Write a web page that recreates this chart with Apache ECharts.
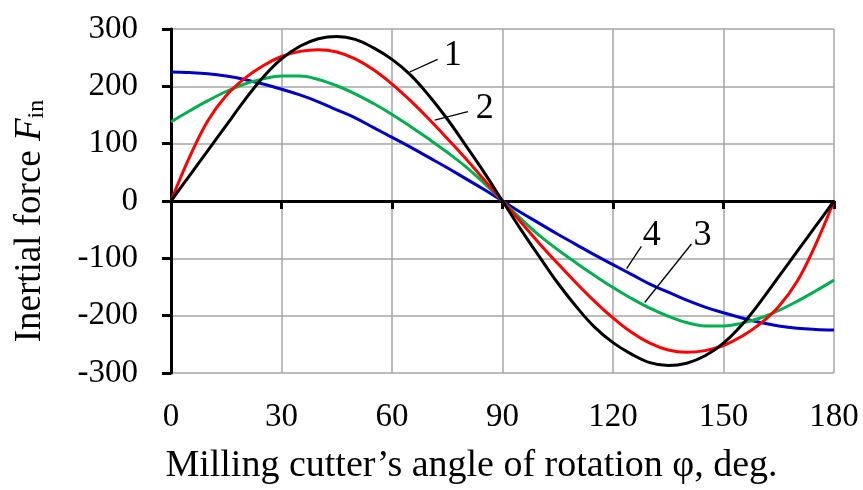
<!DOCTYPE html>
<html>
<head>
<meta charset="utf-8">
<script src="https://cdn.jsdelivr.net/npm/echarts@6/dist/echarts.min.js"></script>
<style>
  html, body { margin: 0; padding: 0; background: #fff; }
  #chart { width: 863px; height: 490px; }
</style>
</head>
<body>
<div id="chart"></div>
<script>
// angle of rotation, deg
const angles = [0, 5, 10, 15, 20, 25, 30, 35, 40, 45, 50, 55, 60, 65, 70, 75, 80, 85, 90,
  95, 100, 105, 110, 115, 120, 125, 130, 135, 140, 145, 150, 155, 160, 165, 170, 175, 180];

// curve 1 (black)
const force1 = [0, 44, 88, 132, 176, 216, 248, 270, 283, 287, 282, 267, 247, 220, 184, 143, 97, 50, 0,
  -50, -97, -143, -184, -220, -247, -267, -282, -287, -283, -270, -248, -216, -176, -132, -88, -44, 0];
// curve 2 (red)
const force2 = [0, 76, 140, 184, 214, 236, 252, 261, 264, 260, 248, 229, 204, 175, 143, 109, 74, 37, 0,
  -37, -74, -109, -143, -175, -204, -229, -248, -260, -264, -261, -252, -236, -214, -184, -140, -76, 0];
// curve 3 (green)
const force3 = [138, 157, 175, 191, 204, 213, 218, 218, 212, 201, 187, 170, 151, 130, 108, 85, 60, 31, 0,
  -31, -60, -85, -108, -130, -151, -170, -187, -201, -212, -218, -218, -213, -204, -191, -175, -157, -138];
// curve 4 (blue)
const force4 = [225, 224, 222, 218, 212, 204, 195, 185, 173, 159, 145, 128, 111, 94, 76, 58, 39, 20, 0,
  -20, -39, -58, -76, -94, -111, -128, -145, -159, -173, -185, -195, -204, -212, -218, -222, -224, -225];

const curveNames = ["1", "2", "3", "4"];

// callout leader lines [from, to] and number spots, in data units
const leaders = [
  [[64.8, 225], [72.4, 247]],
  [[71.6, 141], [80.6, 156]],
  [[128.6, -177], [141.3, -75]],
  [[123.7, -118], [127.7, -79]],
];
const numberSpots = [[76.5, 254], [85.2, 162], [144.3, -60], [130.5, -60]];

const serif = "Liberation Serif";

function pairs(ys) {
  return angles.map((a, i) => [a, ys[i]]);
}

function curve(i, ys, color) {
  return {
    name: curveNames[i],
    type: "line",
    smooth: 0.4,
    symbol: "none",
    data: pairs(ys),
    lineStyle: { color: color, width: 3 },
    itemStyle: { color: color },
    z: 3,
    markLine: {
      silent: true,
      symbol: ["none", "none"],
      label: { show: false },
      lineStyle: { color: "#000", width: 1.3, type: "solid" },
      data: [[{ coord: leaders[i][0] }, { coord: leaders[i][1] }]],
    },
    markPoint: {
      silent: true,
      symbol: "circle",
      symbolSize: 0,
      label: {
        show: true,
        position: "inside",
        formatter: curveNames[i],
        color: "#000",
        fontFamily: serif,
        fontSize: 36,
      },
      data: [{ coord: numberSpots[i] }],
    },
  };
}

const chart = echarts.init(document.getElementById("chart"), null, { renderer: "canvas" });

const option = {
  animation: false,
  backgroundColor: "#fff",
  grid: { left: 171, right: 29, top: 29, bottom: 113, containLabel: false },
  xAxis: [
    {
      // bottom labels + grid
      type: "value",
      min: 0,
      max: 180,
      interval: 30,
      position: "bottom",
      axisLine: { show: false, onZero: false },
      axisTick: { show: false },
      axisLabel: { color: "#000", fontFamily: serif, fontSize: 33, margin: 28 },
      splitLine: { show: true, lineStyle: { color: "#a6a6a6", width: 1.5 } },
      name: "Milling cutter\u2019s angle of rotation \u03c6, deg.",
      nameLocation: "middle",
      nameGap: 74,
      nameTextStyle: {
        color: "#000",
        fontFamily: serif,
        fontSize: 38,
        padding: [0, 62, 0, 0],
      },
    },
    {
      // axis line through zero
      type: "value",
      min: 0,
      max: 180,
      interval: 30,
      position: "bottom",
      axisLine: { show: true, onZero: true, lineStyle: { color: "#000", width: 3 } },
      axisTick: { show: true, inside: false, length: 8, lineStyle: { color: "#000", width: 3 } },
      axisLabel: { show: false },
      splitLine: { show: false },
    },
  ],
  yAxis: {
    type: "value",
    min: -300,
    max: 300,
    interval: 100,
    axisLine: { show: true, onZero: false, lineStyle: { color: "#000", width: 3 } },
    axisTick: { show: true, inside: false, length: 9, lineStyle: { color: "#000", width: 3 } },
    axisLabel: { color: "#000", fontFamily: serif, fontSize: 33, margin: 33 },
    splitLine: { show: true, lineStyle: { color: "#a6a6a6", width: 1.5 } },
    name: "Inertial force {i|F}{s|in}",
    nameLocation: "middle",
    nameGap: 122,
    nameTextStyle: {
      color: "#000",
      fontFamily: serif,
      fontSize: 37,
      padding: [0, 40, 0, 0],
      rich: {
        i: { fontFamily: serif, fontSize: 37, fontStyle: "italic", color: "#000" },
        s: { fontFamily: serif, fontSize: 24, color: "#000", verticalAlign: "bottom", lineHeight: 24, padding: [16, 0, 0, 0] },
      },
    },
  },
  series: [
    curve(3, force4, "#0000c8"),
    curve(2, force3, "#00b050"),
    curve(1, force2, "#ff0000"),
    curve(0, force1, "#000000"),
  ],
};

chart.setOption(option);
</script>
</body>
</html>
